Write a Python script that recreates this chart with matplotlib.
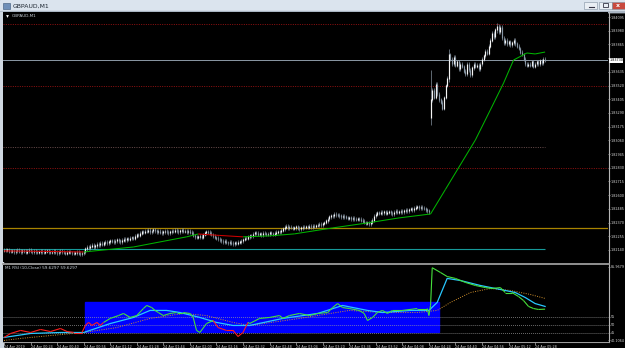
import matplotlib
matplotlib.use("Agg")
import matplotlib.pyplot as plt
import numpy as np
from matplotlib.patches import Rectangle
from matplotlib.collections import LineCollection
import matplotlib.transforms as mtransforms

plt.rcParams["font.family"] = ["DejaVu Sans"]

# ---------------- DATA ----------------
symbol_title = "GBPAUD,M1"
rsi_title = "M1 RSI (10,Close) 59.6297 59.6297"
base_price = 1.82000
# closes in points above base (1 point = 0.00001), one per M1 bar
close_pts = [
    140, 135, 142, 130, 128, 136, 125, 132, 138, 130,
    126, 134, 128, 120, 131, 138, 127, 122, 130, 125,
    118, 126, 132, 124, 120, 128, 135, 126, 118, 122,
    128, 120, 115, 124, 130, 122, 118, 112, 120, 126,
    118, 114, 110, 116, 120, 112, 108, 115, 122,
    150, 165, 158, 172, 180, 168, 176, 190, 184, 196, 188, 200,
    205, 198, 210, 220, 212, 206, 215, 225, 218, 210, 222, 230, 226, 236, 228, 240, 245, 238,
    255, 270, 262, 280, 295, 288, 300,
    296, 305, 290, 298, 310, 302, 294, 300, 288, 284, 292, 298, 290, 285,
    292, 300, 296, 305, 298, 290, 302, 308, 296, 300, 294, 298, 288, 280,
    262, 250, 244, 252, 258, 246,
    270, 285, 292, 288, 280, 270, 258, 245, 238, 232,
    225, 215, 208, 212, 202, 198, 205, 196, 190, 200, 194, 204, 210, 215,
    228, 240, 236, 250, 262, 258, 275, 285,
    280, 272, 276, 268, 282, 278, 270, 275, 284, 278, 270, 280, 288, 294, 290,
    305, 318, 330, 338, 325, 332,
    328, 320, 326, 334, 322, 318, 326, 332, 328, 336, 330, 340, 335, 342,
    338, 345, 350, 358, 352, 362, 370,
    385, 400, 418, 430, 425, 440, 436,
    432, 428, 420, 425, 418, 412,
    405, 410, 402, 408, 400, 395, 402, 398, 390,
    380, 370, 362, 368, 358, 372, 390,
    425, 440, 452, 448, 458,
    452, 460, 448, 456, 462, 450, 445, 458, 466, 455, 460, 468, 462,
    470, 476, 468, 480, 488, 478, 490, 498, 505, 495,
    500, 492, 488, 478, 470, 462,
    1400,
    1480, 1420, 1530, 1450, 1400,
    1380, 1330, 1420,
    1520, 1580,
    1780,
    1740, 1700, 1760, 1690, 1720, 1660, 1700,
    1680, 1640, 1620, 1700, 1650, 1610, 1670,
    1700, 1680, 1690, 1660, 1700,
    1740, 1770, 1810, 1790,
    1850, 1900, 1960, 1930,
    1990, 2020, 1970, 2010,
    1920, 1880, 1900, 1870,
    1890, 1860, 1880, 1900, 1870,
    1850, 1830, 1800,
    1780, 1740, 1700, 1690,
    1700, 1690, 1720, 1680, 1700,
    1720, 1700, 1730, 1710, 1740, 1730,
]
first_open_pts = 138
gap_open_pts = {257: 1250}                 # bar opening on a gap
extreme_pts = {257: (1650, 1190), 268: (1830, 1550), 297: (2045, 1960)}  # (high, low)

# main-chart moving average readings (bar, points) and red stretches
ma_bars = [0, 24, 48, 78, 110, 117, 130, 144, 160, 175, 198, 219, 238, 257, 266, 284, 293, 301, 307, 315, 320, 326]
ma_pts = [132, 128, 123, 165, 250, 274, 262, 250, 258, 275, 325, 367, 409, 442, 649, 1063, 1315, 1541, 1734, 1793, 1785, 1801]
ma_red = [(0, 48), (117, 144)]

# horizontal price levels
full_dotted_levels = [1.84036, 1.83516, 1.82828]
short_dotted_level = 1.83004
gold_level = 1.82325
teal_level = 1.82144

price_ticks = [1.84095, 1.83980, 1.83865, 1.83750, 1.83635, 1.83520, 1.83405, 1.83290, 1.83175,
               1.83060, 1.82945, 1.82830, 1.82715, 1.82600, 1.82485, 1.82370, 1.82255, 1.82140]

# RSI readings
rsi_bars = [0, 4, 10, 16, 22, 28, 34, 38, 42, 47, 49, 51, 53, 56, 58, 60, 64, 69, 72, 76,
            80, 84, 86, 89, 91, 93, 96, 100, 104, 108, 112, 114, 116, 118, 122, 126, 129, 134, 138, 141,
            144, 147, 148, 154, 160, 166, 168, 172, 178, 184, 189, 195, 198, 201, 204, 208, 214, 217, 219, 222,
            225, 228, 231, 234, 240, 249, 255, 256, 257, 258, 263, 267, 272, 278, 284, 290, 294, 299, 302, 306,
            310, 313, 316, 319, 322, 326]
rsi_vals = [41.9, 44.4, 46.3, 45.0, 46.9, 45.6, 47.5, 45.6, 45.0, 45.0,
            49.4, 51.3, 49.4, 51.3, 49.4, 51.3, 53.8, 55.6, 56.9, 54.4,
            55.6, 60.0, 61.9, 60.6, 58.8, 57.5, 55.6, 56.9, 57.5, 57.5,
            56.9, 54.4, 46.3, 45.0, 50.6, 52.5, 48.1, 46.3, 46.3, 42.5,
            45.0, 51.3, 50.6, 53.8, 54.4, 55.6, 53.8, 55.6, 56.9, 55.6,
            56.9, 57.5, 60.6, 63.1, 60.6, 60.0, 58.8, 56.9, 52.5, 54.4,
            57.5, 58.8, 56.9, 58.8, 58.8, 60.0, 60.0, 55.6, 62.0, 85.5,
            82.5, 80.0, 78.8, 76.3, 74.4, 73.1, 72.5, 73.1, 70.0, 70.0,
            67.5, 65.0, 61.3, 60.0, 59.4, 59.6]
rsi_red = [(0, 60), (126, 147)]
sig_bars = [0, 16, 34, 48, 64, 78, 88, 98, 106, 118, 128, 138, 148, 168, 189, 204, 219, 228, 245, 256,
            261, 267, 275, 287, 299, 308, 314, 320, 326]
sig_vals = [41.9, 44.4, 45.0, 45.0, 50.6, 54.4, 58.8, 58.8, 57.5, 54.4,
            51.3, 49.4, 49.4, 53.8, 56.9, 61.9, 58.8, 57.5, 58.8, 58.8,
            63.8, 78.8, 77.5, 74.4, 71.9, 70.0, 66.9, 63.1, 61.3]
slow_bars = [0, 10, 28, 48, 68, 88, 108, 122, 138, 148, 178, 208, 228, 249, 261, 269, 281, 293, 305, 317, 326]
slow_vals = [40.0, 41.3, 43.1, 45.0, 48.1, 53.8, 56.9, 55.6, 51.3, 49.4, 53.8, 58.8, 57.5, 57.5, 58.8,
             63.8, 70.0, 72.5, 71.3, 68.8, 66.3]
zone_bars = (48.8, 262.0)
zone_rsi = (45.6, 63.8)
rsi_levels = [45, 50, 55]
rsi_top_label, rsi_bottom_label = 85.9679, 40.1064

time_labels = ["24 Apr 2019", "24 Apr 00:24", "24 Apr 00:40", "24 Apr 00:56", "24 Apr 01:12",
               "24 Apr 01:28", "24 Apr 01:44", "24 Apr 02:00", "24 Apr 02:16", "24 Apr 02:32",
               "24 Apr 02:48", "24 Apr 03:04", "24 Apr 03:20", "24 Apr 03:36", "24 Apr 03:52",
               "24 Apr 04:08", "24 Apr 04:24", "24 Apr 04:40", "24 Apr 04:56", "24 Apr 05:12",
               "24 Apr 05:28"]
time_label_bars = [0, 16, 32, 48, 64, 80, 96, 112, 128, 144, 160, 176, 192, 208, 224, 240, 256, 272,
                   288, 304, 320]

# ---------------- FIGURE ----------------
W, H = 625, 348
fig = plt.figure(figsize=(W / 100, H / 100), dpi=100, facecolor="black")
FS = 2.4


def ax_px(x0, y0, x1, y1, **kw):
    return fig.add_axes([x0 / W, 1 - y1 / H, (x1 - x0) / W, (y1 - y0) / H], **kw)


bg = ax_px(0, 0, W, H)
bg.set_xlim(0, W)
bg.set_ylim(H, 0)
bg.axis("off")
bg.set_zorder(-5)
bg.add_patch(Rectangle((0, 0), W, H, color="black"))
# window title bar
bg.add_patch(Rectangle((0, 0), W, 11.5, color="#dbe4ee"))
bg.add_patch(Rectangle((0, 10.5), W, 1.2, color="#aab6c3"))
bg.add_patch(Rectangle((2.5, 2.5), 7, 6, fc="#6f8fb8", ec="#3a5578", lw=0.4))
bg.text(12.5, 5.8, symbol_title, fontsize=4.4, color="#1c2530", va="center", ha="left")
for x0, fc in [(584, "#e9eef4"), (598.5, "#e9eef4"), (611.5, "#c8493e")]:
    bg.add_patch(Rectangle((x0, 1.5), 13, 7.5, fc=fc, ec="#7f8fa0", lw=0.4))
bg.plot([588.5, 593.5], [6.8, 6.8], color="#334", lw=0.8)
bg.add_patch(Rectangle((602.5, 3.4), 5, 3.8, fc="none", ec="#334", lw=0.6))
bg.text(618, 5.3, "x", fontsize=4.5, color="white", ha="center", va="center", fontweight="bold")
# frame
bg.add_patch(Rectangle((0, 11.5), 2.8, H, color="#cfd7e0"))
bg.plot([608.5, 608.5], [12, 342], color="#b8b8b8", lw=0.8)
bg.plot([3, 608.5], [263.5, 263.5], color="#9c9c9c", lw=1.3)
bg.plot([3, 608.5], [342, 342], color="#9c9c9c", lw=0.8)
bg.plot(547, 13.8, marker="v", ms=2.6, color="#8a98a8", mec="none")

# ---------------- MAIN PRICE CHART ----------------
ax = ax_px(3, 12, 608, 262, facecolor="black")
XL = (-0.6, 363.9)
ax.set_xlim(*XL)
ax.set_ylim(base_price + 39 / 1e5, base_price + 2137 / 1e5)
for s in ax.spines.values():
    s.set_visible(False)

c = np.array(close_pts, dtype=float)
n = len(c)
x = np.arange(n)
o = np.r_[first_open_pts, c[:-1]].astype(float)
for k, v in gap_open_pts.items():
    o[k] = v
hi = np.maximum(o, c) + 16
lo = np.minimum(o, c) - 16
for k, (h_, l_) in extreme_pts.items():
    hi[k], lo[k] = h_, l_
body_lo = np.minimum(o, c) - 3
body_hi = np.maximum(o, c) + 3
bull = c >= o
P = lambda a: base_price + np.asarray(a, dtype=float) / 1e5

ax.vlines(x, P(lo), P(hi), colors="#94a2b0", lw=0.45, zorder=3)
ax.vlines(x, P(body_lo), P(body_hi), colors=np.where(bull, "#f4f4f4", "#8796a5"), lw=0.85, zorder=4)


def colored_line(axx, bars, vals, red_ranges, c_main, c_red, lw, z):
    pts = np.column_stack([bars, vals])
    segs = np.stack([pts[:-1], pts[1:]], axis=1)
    cols = []
    for a, b in zip(bars[:-1], bars[1:]):
        mid = (a + b) / 2
        cols.append(c_red if any(l_ <= mid <= h_ for l_, h_ in red_ranges) else c_main)
    axx.add_collection(LineCollection(segs, colors=cols, linewidths=lw, zorder=z))


colored_line(ax, ma_bars, P(ma_pts), ma_red, "#00b400", "#d00000", 0.75, 5)

for lv in full_dotted_levels:
    ax.axhline(lv, color="#a81414", lw=0.6, ls=(0, (1.2, 1.6)), zorder=2)
ax.hlines(short_dotted_level, XL[0], n - 1, color="#7a5a5a", lw=0.6, ls=(0, (1.2, 1.6)), zorder=2)
ax.axhline(gold_level, color="#a88400", lw=0.9, zorder=2)
ax.hlines(teal_level, XL[0], n - 1, color="#169a9a", lw=0.8, zorder=2)
bid = P(close_pts[-1])
ax.axhline(bid, color="#8c99a6", lw=0.7, zorder=2)

ax.yaxis.tick_right()
ax.set_yticks(price_ticks)
tick_step = price_ticks[0] - price_ticks[1]
ax.set_yticklabels(["" if abs(v - bid) < 0.5 * tick_step else f"{v:.5f}" for v in price_ticks])
ax.tick_params(axis="y", length=1.3, width=0.5, color="#b0b0b0", labelsize=FS,
               labelcolor="#d8d8d8", pad=0.4)
ax.set_xticks([])
trans = mtransforms.blended_transform_factory(ax.transAxes, ax.transData)
ax.text(1.002, bid, f"{bid:.5f}", transform=trans, fontsize=FS, color="black", va="center",
        ha="left", clip_on=False, zorder=10,
        bbox=dict(fc="white", ec="none", pad=0.25))
ax.plot(0.007, 0.984, marker="v", ms=2, color="white", mec="none", transform=ax.transAxes)
ax.text(0.014, 0.984, symbol_title, transform=ax.transAxes, fontsize=3.0, color="#c8d0d8",
        va="center", ha="left")

# ---------------- RSI SUBWINDOW ----------------
ar = ax_px(3, 265, 608, 341.5, facecolor="black")
ar.set_xlim(*XL)
ar.set_ylim(39.375, 87.2)
for s in ar.spines.values():
    s.set_visible(False)
ar.add_patch(Rectangle((zone_bars[0], zone_rsi[0]), zone_bars[1] - zone_bars[0],
                       zone_rsi[1] - zone_rsi[0], color="#0000ff", zorder=1))
for lv in rsi_levels:
    ar.axhline(lv, color="#a0a0a0", lw=0.5, ls=(0, (1.3, 1.6)), zorder=2)
ar.plot(slow_bars, slow_vals, color="#d0902c", lw=0.7, ls=(0, (1, 1.4)), zorder=3)
ar.plot(sig_bars, sig_vals, color="#28c8ff", lw=0.9, zorder=4)
colored_line(ar, rsi_bars, rsi_vals, rsi_red, "#46e03c", "#ff1e1e", 0.8, 5)

ar.yaxis.tick_right()
ar.set_yticks([rsi_bottom_label] + rsi_levels + [rsi_top_label])
ar.set_yticklabels([f"{rsi_bottom_label:.4f}"] + [str(v) for v in rsi_levels] + [f"{rsi_top_label:.4f}"])
ar.tick_params(axis="y", length=1.3, width=0.5, color="#b0b0b0", labelsize=FS,
               labelcolor="#d8d8d8", pad=0.4)
ar.set_xticks(time_label_bars)
ar.set_xticklabels(time_labels)
ar.tick_params(axis="x", length=2.0, width=0.5, color="#b0b0b0", labelsize=FS,
               labelcolor="#d0d0d0", pad=0.5, direction="out")
for lab in ar.get_xticklabels():
    lab.set_ha("left")
ar.text(0.004, 0.955, rsi_title, transform=ar.transAxes, fontsize=3.0, color="#c8d0d8",
        va="center", ha="left")

fig.savefig("out.png", dpi=100, facecolor="black")
